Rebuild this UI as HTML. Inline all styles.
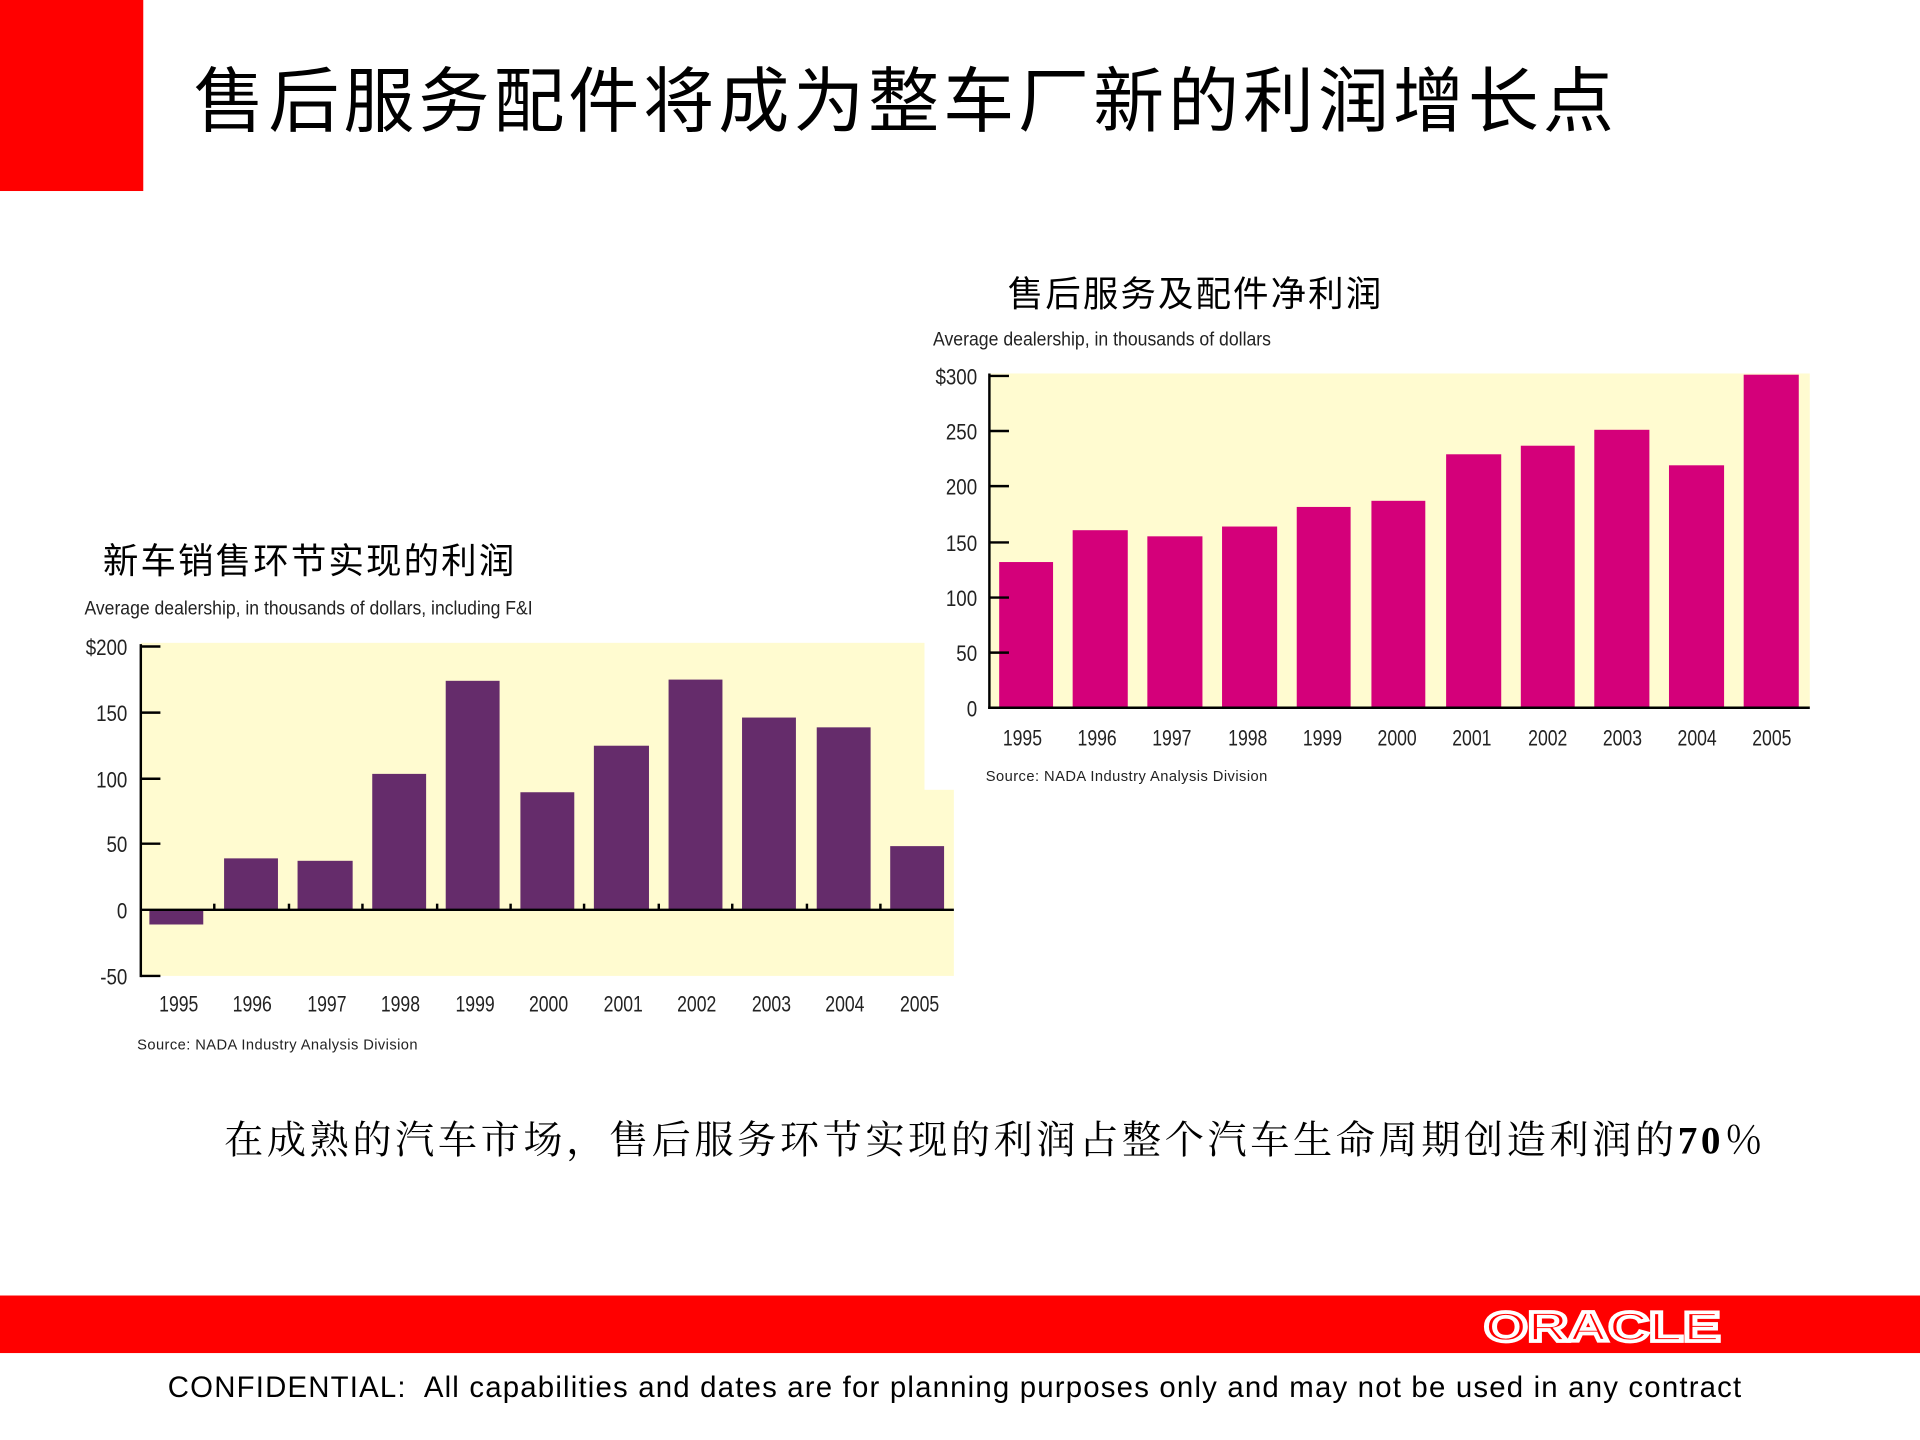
<!DOCTYPE html>
<html><head><meta charset="utf-8"><style>
html,body{margin:0;padding:0;background:#fff;}
svg{display:block;}
.cn{font-family:"Liberation Sans","Noto Sans CJK SC",sans-serif;}
.sm{font-family:"Liberation Sans Narrow","Liberation Sans",sans-serif;fill:#222;}
</style></head><body>
<svg width="1920" height="1440" viewBox="0 0 1568 1176" xmlns="http://www.w3.org/2000/svg">
<rect x="0" y="0" width="117" height="156" fill="#ff0000"/>
<text class="cn" x="158" y="103" font-size="58" textLength="1160" fill="#000">售后服务配件将成为整车厂新的利润增长点</text>

<!-- Right chart -->
<text class="cn" x="823" y="250" font-size="29" textLength="305" fill="#000">售后服务及配件净利润</text>
<text class="sm" x="762" y="282" font-size="16" textLength="276" lengthAdjust="spacingAndGlyphs">Average dealership, in thousands of dollars</text>
<rect x="808" y="305" width="670" height="273" fill="#fffbd0"/>
<g fill="#d4007a">
<rect x="816" y="459" width="44" height="119"/>
<rect x="876" y="433" width="45" height="145"/>
<rect x="937" y="438" width="45" height="140"/>
<rect x="998" y="430" width="45" height="148"/>
<rect x="1059" y="414" width="44" height="164"/>
<rect x="1120" y="409" width="44" height="169"/>
<rect x="1181" y="371" width="45" height="207"/>
<rect x="1242" y="364" width="44" height="214"/>
<rect x="1302" y="351" width="45" height="227"/>
<rect x="1363" y="380" width="45" height="198"/>
<rect x="1424" y="306" width="45" height="272"/>
</g>
<g stroke="#000" stroke-width="2">
<line x1="808" y1="305" x2="808" y2="579"/>
<line x1="807" y1="578" x2="1478" y2="578"/>
<line x1="808" y1="307" x2="824" y2="307"/>
<line x1="808" y1="352" x2="824" y2="352"/>
<line x1="808" y1="397" x2="824" y2="397"/>
<line x1="808" y1="443" x2="824" y2="443"/>
<line x1="808" y1="488" x2="824" y2="488"/>
<line x1="808" y1="533" x2="824" y2="533"/>
</g>
<g class="sm" font-size="18" text-anchor="end" transform="translate(798,0) scale(0.85,1) translate(-798,0)">
<text x="798" y="314">$300</text><text x="798" y="359">250</text><text x="798" y="404">200</text>
<text x="798" y="450">150</text><text x="798" y="495">100</text><text x="798" y="540">50</text><text x="798" y="585">0</text>
</g>
<g class="sm" font-size="18" text-anchor="middle">
<text x="835" y="609" textLength="32" lengthAdjust="spacingAndGlyphs">1995</text><text x="896" y="609" textLength="32" lengthAdjust="spacingAndGlyphs">1996</text><text x="957" y="609" textLength="32" lengthAdjust="spacingAndGlyphs">1997</text>
<text x="1019" y="609" textLength="32" lengthAdjust="spacingAndGlyphs">1998</text><text x="1080" y="609" textLength="32" lengthAdjust="spacingAndGlyphs">1999</text><text x="1141" y="609" textLength="32" lengthAdjust="spacingAndGlyphs">2000</text>
<text x="1202" y="609" textLength="32" lengthAdjust="spacingAndGlyphs">2001</text><text x="1264" y="609" textLength="32" lengthAdjust="spacingAndGlyphs">2002</text><text x="1325" y="609" textLength="32" lengthAdjust="spacingAndGlyphs">2003</text>
<text x="1386" y="609" textLength="32" lengthAdjust="spacingAndGlyphs">2004</text><text x="1447" y="609" textLength="32" lengthAdjust="spacingAndGlyphs">2005</text>
</g>
<text class="sm" x="805" y="638" font-size="12" textLength="230">Source: NADA Industry Analysis Division</text>

<!-- Left chart -->
<text class="cn" x="84" y="468" font-size="29" textLength="336" fill="#000">新车销售环节实现的利润</text>
<text class="sm" x="69" y="502" font-size="16" textLength="366" lengthAdjust="spacingAndGlyphs">Average dealership, in thousands of dollars, including F&amp;I</text>
<rect x="115" y="525" width="640" height="272" fill="#fffbd0"/>
<rect x="755" y="645" width="24" height="152" fill="#fffbd0"/>
<g fill="#652c6b">
<rect x="122" y="743" width="44" height="12"/>
<rect x="183" y="701" width="44" height="42"/>
<rect x="243" y="703" width="45" height="40"/>
<rect x="304" y="632" width="44" height="111"/>
<rect x="364" y="556" width="44" height="187"/>
<rect x="425" y="647" width="44" height="96"/>
<rect x="485" y="609" width="45" height="134"/>
<rect x="546" y="555" width="44" height="188"/>
<rect x="606" y="586" width="44" height="157"/>
<rect x="667" y="594" width="44" height="149"/>
<rect x="727" y="691" width="44" height="52"/>
</g>
<g stroke="#000" stroke-width="2">
<line x1="115" y1="526" x2="115" y2="798"/>
<line x1="115" y1="743" x2="779" y2="743"/>
<line x1="115" y1="528" x2="131" y2="528"/>
<line x1="115" y1="582" x2="131" y2="582"/>
<line x1="115" y1="636" x2="131" y2="636"/>
<line x1="115" y1="689" x2="131" y2="689"/>
<line x1="115" y1="797" x2="131" y2="797"/>
<line x1="175" y1="738" x2="175" y2="743"/><line x1="236" y1="738" x2="236" y2="743"/>
<line x1="296" y1="738" x2="296" y2="743"/><line x1="357" y1="738" x2="357" y2="743"/>
<line x1="417" y1="738" x2="417" y2="743"/><line x1="477" y1="738" x2="477" y2="743"/>
<line x1="538" y1="738" x2="538" y2="743"/><line x1="598" y1="738" x2="598" y2="743"/>
<line x1="659" y1="738" x2="659" y2="743"/><line x1="719" y1="738" x2="719" y2="743"/>
</g>
<g class="sm" font-size="18" text-anchor="end" transform="translate(104,0) scale(0.85,1) translate(-104,0)">
<text x="104" y="535">$200</text><text x="104" y="589">150</text><text x="104" y="643">100</text>
<text x="104" y="696">50</text><text x="104" y="750">0</text><text x="104" y="804">-50</text>
</g>
<g class="sm" font-size="18" text-anchor="middle">
<text x="146" y="826" textLength="32" lengthAdjust="spacingAndGlyphs">1995</text><text x="206" y="826" textLength="32" lengthAdjust="spacingAndGlyphs">1996</text><text x="267" y="826" textLength="32" lengthAdjust="spacingAndGlyphs">1997</text>
<text x="327" y="826" textLength="32" lengthAdjust="spacingAndGlyphs">1998</text><text x="388" y="826" textLength="32" lengthAdjust="spacingAndGlyphs">1999</text><text x="448" y="826" textLength="32" lengthAdjust="spacingAndGlyphs">2000</text>
<text x="509" y="826" textLength="32" lengthAdjust="spacingAndGlyphs">2001</text><text x="569" y="826" textLength="32" lengthAdjust="spacingAndGlyphs">2002</text><text x="630" y="826" textLength="32" lengthAdjust="spacingAndGlyphs">2003</text>
<text x="690" y="826" textLength="32" lengthAdjust="spacingAndGlyphs">2004</text><text x="751" y="826" textLength="32" lengthAdjust="spacingAndGlyphs">2005</text>
</g>
<text class="sm" x="112" y="857" font-size="12" textLength="229">Source: NADA Industry Analysis Division</text>

<text x="183" y="942" font-size="32" textLength="1257" font-family="'Liberation Serif','Noto Serif CJK SC',serif" fill="#000">在成熟的汽车市场，售后服务环节实现的利润占整个汽车生命周期创造利润的<tspan font-weight="bold">70</tspan>％</text>

<rect x="0" y="1058" width="1568" height="47" fill="#ff0000"/>
<text x="1212" y="1095" font-size="34" font-weight="bold" textLength="193" lengthAdjust="spacingAndGlyphs" fill="none" stroke="#fff" stroke-width="3" font-family="'Liberation Sans',sans-serif">ORACLE</text>
<text x="137" y="1141" font-size="24" textLength="1285" xml:space="preserve" fill="#000" font-family="'Liberation Sans',sans-serif">CONFIDENTIAL:  All capabilities and dates are for planning purposes only and may not be used in any contract</text>
</svg>
</body></html>
